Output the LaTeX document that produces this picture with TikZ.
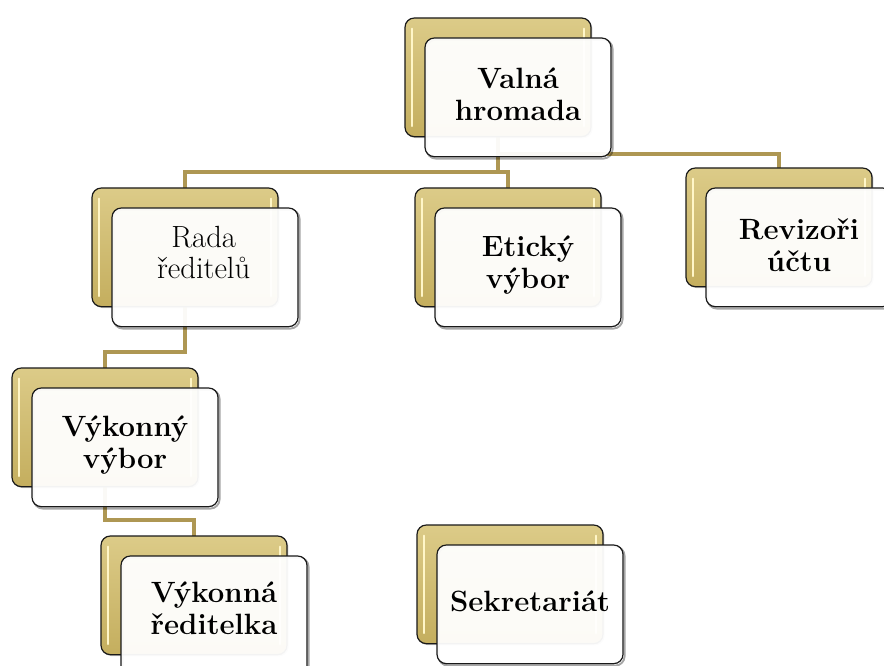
\documentclass[tikz,border=0pt]{standalone}
\usetikzlibrary{calc,shadows}
\pgfdeclarelayer{background}
\pgfsetlayers{background,main}
\definecolor{goldtop}{HTML}{DCCB88}
\definecolor{goldbot}{HTML}{C4AE5E}
\definecolor{goldline}{HTML}{AE9753}
\definecolor{shine}{HTML}{FFF6C8}
\tikzset{
  goldbox/.style={shape=rectangle, rounded corners=7pt, minimum width=139.5pt, minimum height=89pt,
    inner sep=0pt, outer sep=0pt, top color=goldtop, bottom color=goldbot, draw=black!90, line width=0.9pt,
    drop shadow={shadow xshift=1.1pt, shadow yshift=-1.1pt, opacity=0.4}},
  whitebox/.style={shape=rectangle, rounded corners=7pt, minimum width=139.5pt, minimum height=89pt,
    inner sep=0pt, outer sep=0pt, fill=white, fill opacity=0.95, draw=black!90, draw opacity=1, line width=0.9pt},
  shadowline/.style={draw=black, draw opacity=0.35, line width=1.4pt, rounded corners=7pt},
  goldshine/.style={shine, line width=1.6pt, line cap=round},
  labeltext/.style={align=center, font=\fontsize{22}{24}\selectfont\bfseries, inner sep=0pt, yshift=2pt},
  conn/.style={goldline, line width=3pt}
}
\newcommand\OrgUnit[5]{%
  \node[goldbox, anchor=north west] (#1g) at (#2,#3) {};
  \draw[goldshine] ([xshift=5pt,yshift=-8pt]#1g.north west) -- ([xshift=5pt,yshift=8pt]#1g.south west);
  \draw[goldshine] ([xshift=-5pt,yshift=-8pt]#1g.north east) -- ([xshift=-5pt,yshift=8pt]#1g.south east);
  \draw[shadowline] ($(#2,#3)+(21.6,21.6)$) rectangle ++(186,119);
  \node[whitebox, anchor=north west] (#1w) at ($(#2,#3)+(20,20)$) {};
  \node[labeltext, #4] (#1t) at (#1w.center) {#5};
}
\begin{document}
\begin{tikzpicture}[x=0.75pt, y=-0.75pt]
  \useasboundingbox (0,0) rectangle (884,666);
  \clip (0,0) rectangle (884,666);
  \OrgUnit{vh}{405}{18}{}{Valná\\hromada}
  \OrgUnit{rd}{92}{188}{font=\fontsize{23}{23}\selectfont, yshift=9pt, xshift=-1pt}{Rada\\ředitelů}
  \OrgUnit{et}{415}{188}{}{Etický\\výbor}
  \OrgUnit{rv}{686}{168}{}{Revizoři\\účtu}
  \OrgUnit{vk}{12}{368}{}{Výkonný\\výbor}
  \OrgUnit{vr}{101}{536}{yshift=3pt}{Výkonná\\ředitelka}
  \OrgUnit{sk}{417}{525}{}{Sekretariát}
  \begin{pgfonlayer}{background}
    \coordinate (bus) at ($(vhw.south)!0.5!(rdg.north)$);
    \draw[conn] (vhg.center) |- (bus -| rdg.north) -- (rdg.north);
    \draw[conn] (vhg.center) |- (bus -| etg.north) -- (etg.north);
    \draw[conn] (vhg.center) |- ($(rvg.north)+(0,-14)$) -- (rvg.north);
    \draw[conn] (rdg.center) |- ($(vkg.north)+(0,-16)$) -- (vkg.north);
    \draw[conn] (vkg.center) |- ($(vrg.north)+(0,-16)$) -- (vrg.north);
  \end{pgfonlayer}
\end{tikzpicture}
\end{document}
